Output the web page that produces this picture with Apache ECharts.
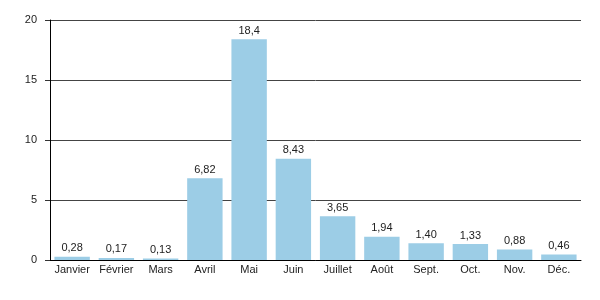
<!DOCTYPE html>
<html><head><meta charset="utf-8">
<script src="https://cdn.jsdelivr.net/npm/echarts@6/dist/echarts.min.js"></script>
<style>html,body{margin:0;padding:0;background:#fff}#c{width:600px;height:300px}</style>
</head><body><div id="c"></div>
<script>
var categories = ["Janvier","Février","Mars","Avril","Mai","Juin","Juillet","Août","Sept.","Oct.","Nov.","Déc."];
var values = [0.28,0.17,0.13,6.82,18.4,8.43,3.65,1.94,1.40,1.33,0.88,0.46];
var valueLabels = ["0,28","0,17","0,13","6,82","18,4","8,43","3,65","1,94","1,40","1,33","0,88","0,46"];
var yTicks = [0,5,10,15,20];
var chart = echarts.init(document.getElementById('c'), null, {renderer:'canvas'});
var font = 'Liberation Sans, Arial, sans-serif';
chart.setOption({
  animation:false,
  grid:{left:50,right:19,top:20,bottom:40,containLabel:false},
  xAxis:{type:'category',data:categories,
    axisLine:{lineStyle:{color:'#000',width:1}},
    axisTick:{show:false},
    axisLabel:{color:'#222',fontSize:11,fontFamily:font,margin:4,interval:0}},
  yAxis:{type:'value',min:yTicks[0],max:yTicks[yTicks.length-1],interval:5,
    axisLine:{show:true,lineStyle:{color:'#000',width:1}},
    axisTick:{show:true,length:5,lineStyle:{color:'#333'}},
    splitLine:{lineStyle:{color:'#444',width:1}},
    axisLabel:{color:'#222',fontSize:11,fontFamily:font,margin:13}},
  series:[{type:'bar',data:values,barWidth:'80%',
    itemStyle:{color:'#9ccde6'},
    label:{show:true,position:'top',distance:3,color:'#222',fontSize:11,fontFamily:font,
      formatter:function(p){return valueLabels[p.dataIndex];}}}]
});
</script></body></html>
